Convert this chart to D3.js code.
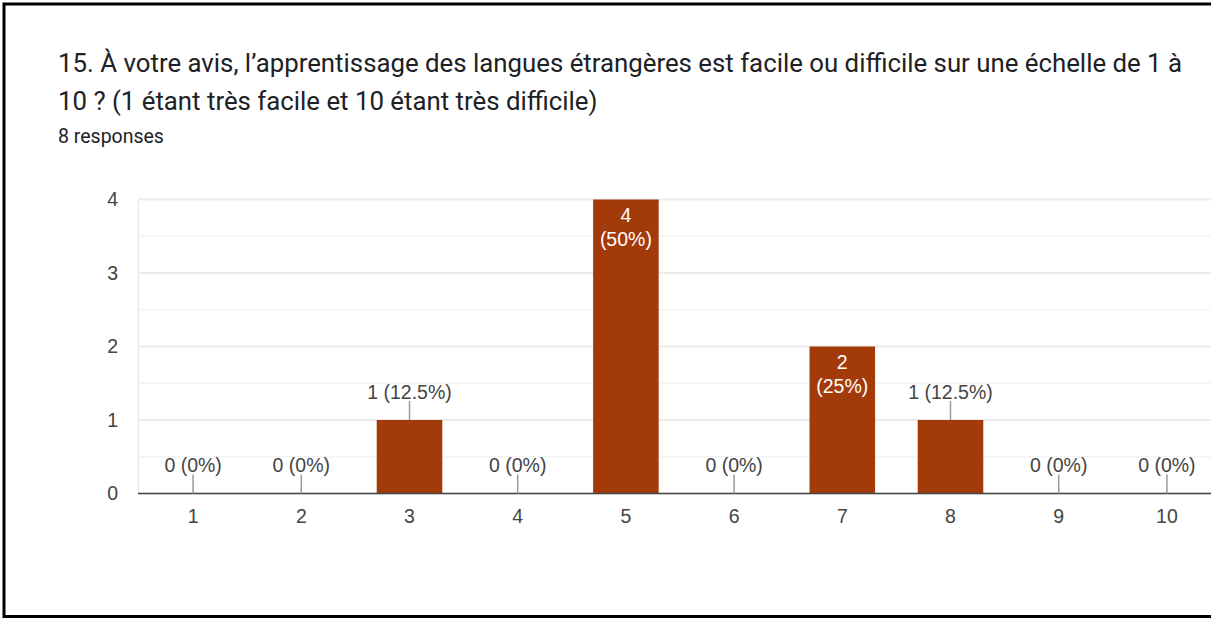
<!DOCTYPE html>
<html>
<head>
<meta charset="utf-8">
<script src="https://d3js.org/d3.v7.min.js"></script>
<style>
    body { margin: 0; background: #fff; }
    svg { display: block; }
    .title { font: 25.8px Roboto, sans-serif; fill: #202124; }
    .sub { font: 19.5px Roboto, sans-serif; fill: #202124; }
    .axis text { font: 19.5px "Liberation Sans", Arial, sans-serif; fill: #444; }
    .val { font: 19.5px "Liberation Sans", Arial, sans-serif; fill: #444; }
    .valIn { font: 19.5px "Liberation Sans", Arial, sans-serif; fill: #fff; }
</style>
</head>
<body>
<svg width="1211" height="619"></svg>
<script>
// data
var titleLines = [
    "15. À votre avis, l’apprentissage des langues étrangères est facile ou difficile sur une échelle de 1 à",
    "10 ? (1 étant très facile et 10 étant très difficile)"
];
var subtitle = "8 responses";
var categories = ["1", "2", "3", "4", "5", "6", "7", "8", "9", "10"];
var counts = [0, 0, 1, 0, 4, 0, 2, 1, 0, 0];
var percents = ["0%", "0%", "12.5%", "0%", "50%", "0%", "25%", "12.5%", "0%", "0%"];
var yTicks = [0, 1, 2, 3, 4];

var svg = d3.select("svg");

// frame (no right edge visible, it runs past the window)
svg.append("rect")
    .attr("x", 4).attr("y", 4)
    .attr("width", 1300).attr("height", 612.5)
    .attr("fill", "none")
    .attr("stroke", "#000")
    .attr("stroke-width", 3);

svg.selectAll(".title").data(titleLines).join("text")
    .attr("class", "title")
    .attr("x", 58)
    .attr("y", (d, i) => 72 + i * 38)
    .text(d => d);

svg.append("text").attr("class", "sub")
    .attr("x", 58).attr("y", 143)
    .text(subtitle);

var x = d3.scaleBand()
    .domain(categories)
    .range([139, 1221])
    .paddingInner(0.394)
    .paddingOuter(0.197);

var y = d3.scaleLinear()
    .domain([0, 4])
    .range([493.5, 199.5]);

// grid
var grid = svg.append("g");
grid.selectAll("line").data(y.ticks(8)).join("line")
    .attr("x1", 138).attr("x2", 1221)
    .attr("y1", d => y(d)).attr("y2", d => y(d))
    .attr("stroke", d => Number.isInteger(d) ? "#ebebeb" : "#f4f4f4")
    .attr("stroke-width", d => Number.isInteger(d) ? 2 : 1.5);
grid.append("line")
    .attr("x1", 138.5).attr("x2", 138.5)
    .attr("y1", y(4)).attr("y2", y(0))
    .attr("stroke", "#ebebeb")
    .attr("stroke-width", 1.5);

// axes
svg.append("g")
    .attr("class", "axis")
    .attr("transform", "translate(138,0)")
    .call(d3.axisLeft(y).tickValues(yTicks).tickFormat(d3.format("d")).tickSize(0).tickPadding(20))
    .call(g => g.select(".domain").remove());

svg.append("g")
    .attr("class", "axis")
    .attr("transform", "translate(0," + y(0) + ")")
    .call(d3.axisBottom(x).tickSize(0).tickPadding(16))
    .call(g => g.select(".domain").remove());

// bars
var rows = categories.map((c, i) => ({ cat: c, n: counts[i], pct: percents[i] }));

svg.append("g").selectAll("rect").data(rows.filter(d => d.n > 0)).join("rect")
    .attr("x", d => x(d.cat))
    .attr("y", d => y(d.n))
    .attr("width", x.bandwidth())
    .attr("height", d => y(0) - y(d.n))
    .attr("fill", "#a33a0a");

// baseline
svg.append("line")
    .attr("x1", 138).attr("x2", 1221)
    .attr("y1", y(0)).attr("y2", y(0))
    .attr("stroke", "#444")
    .attr("stroke-width", 1.5);

// labels
var cx = d => x(d.cat) + x.bandwidth() / 2;
var outside = rows.filter(d => d.n < 2);
var inside = rows.filter(d => d.n >= 2);

svg.append("g").selectAll("line").data(outside).join("line")
    .attr("x1", cx).attr("x2", cx)
    .attr("y1", d => y(d.n) - 19).attr("y2", d => y(d.n))
    .attr("stroke", "#999")
    .attr("stroke-width", 1.5);

svg.append("g").selectAll("text").data(outside).join("text")
    .attr("class", "val")
    .attr("text-anchor", "middle")
    .attr("x", cx)
    .attr("y", d => y(d.n) - 21.5)
    .text(d => d.n + " (" + d.pct + ")");

var inl = svg.append("g").selectAll("text").data(inside).join("text")
    .attr("class", "valIn")
    .attr("text-anchor", "middle")
    .attr("x", cx)
    .attr("y", d => y(d.n) + 22.5);
inl.append("tspan").attr("x", cx).text(d => d.n);
inl.append("tspan").attr("x", cx).attr("dy", 24).text(d => "(" + d.pct + ")");
</script>
</body>
</html>
